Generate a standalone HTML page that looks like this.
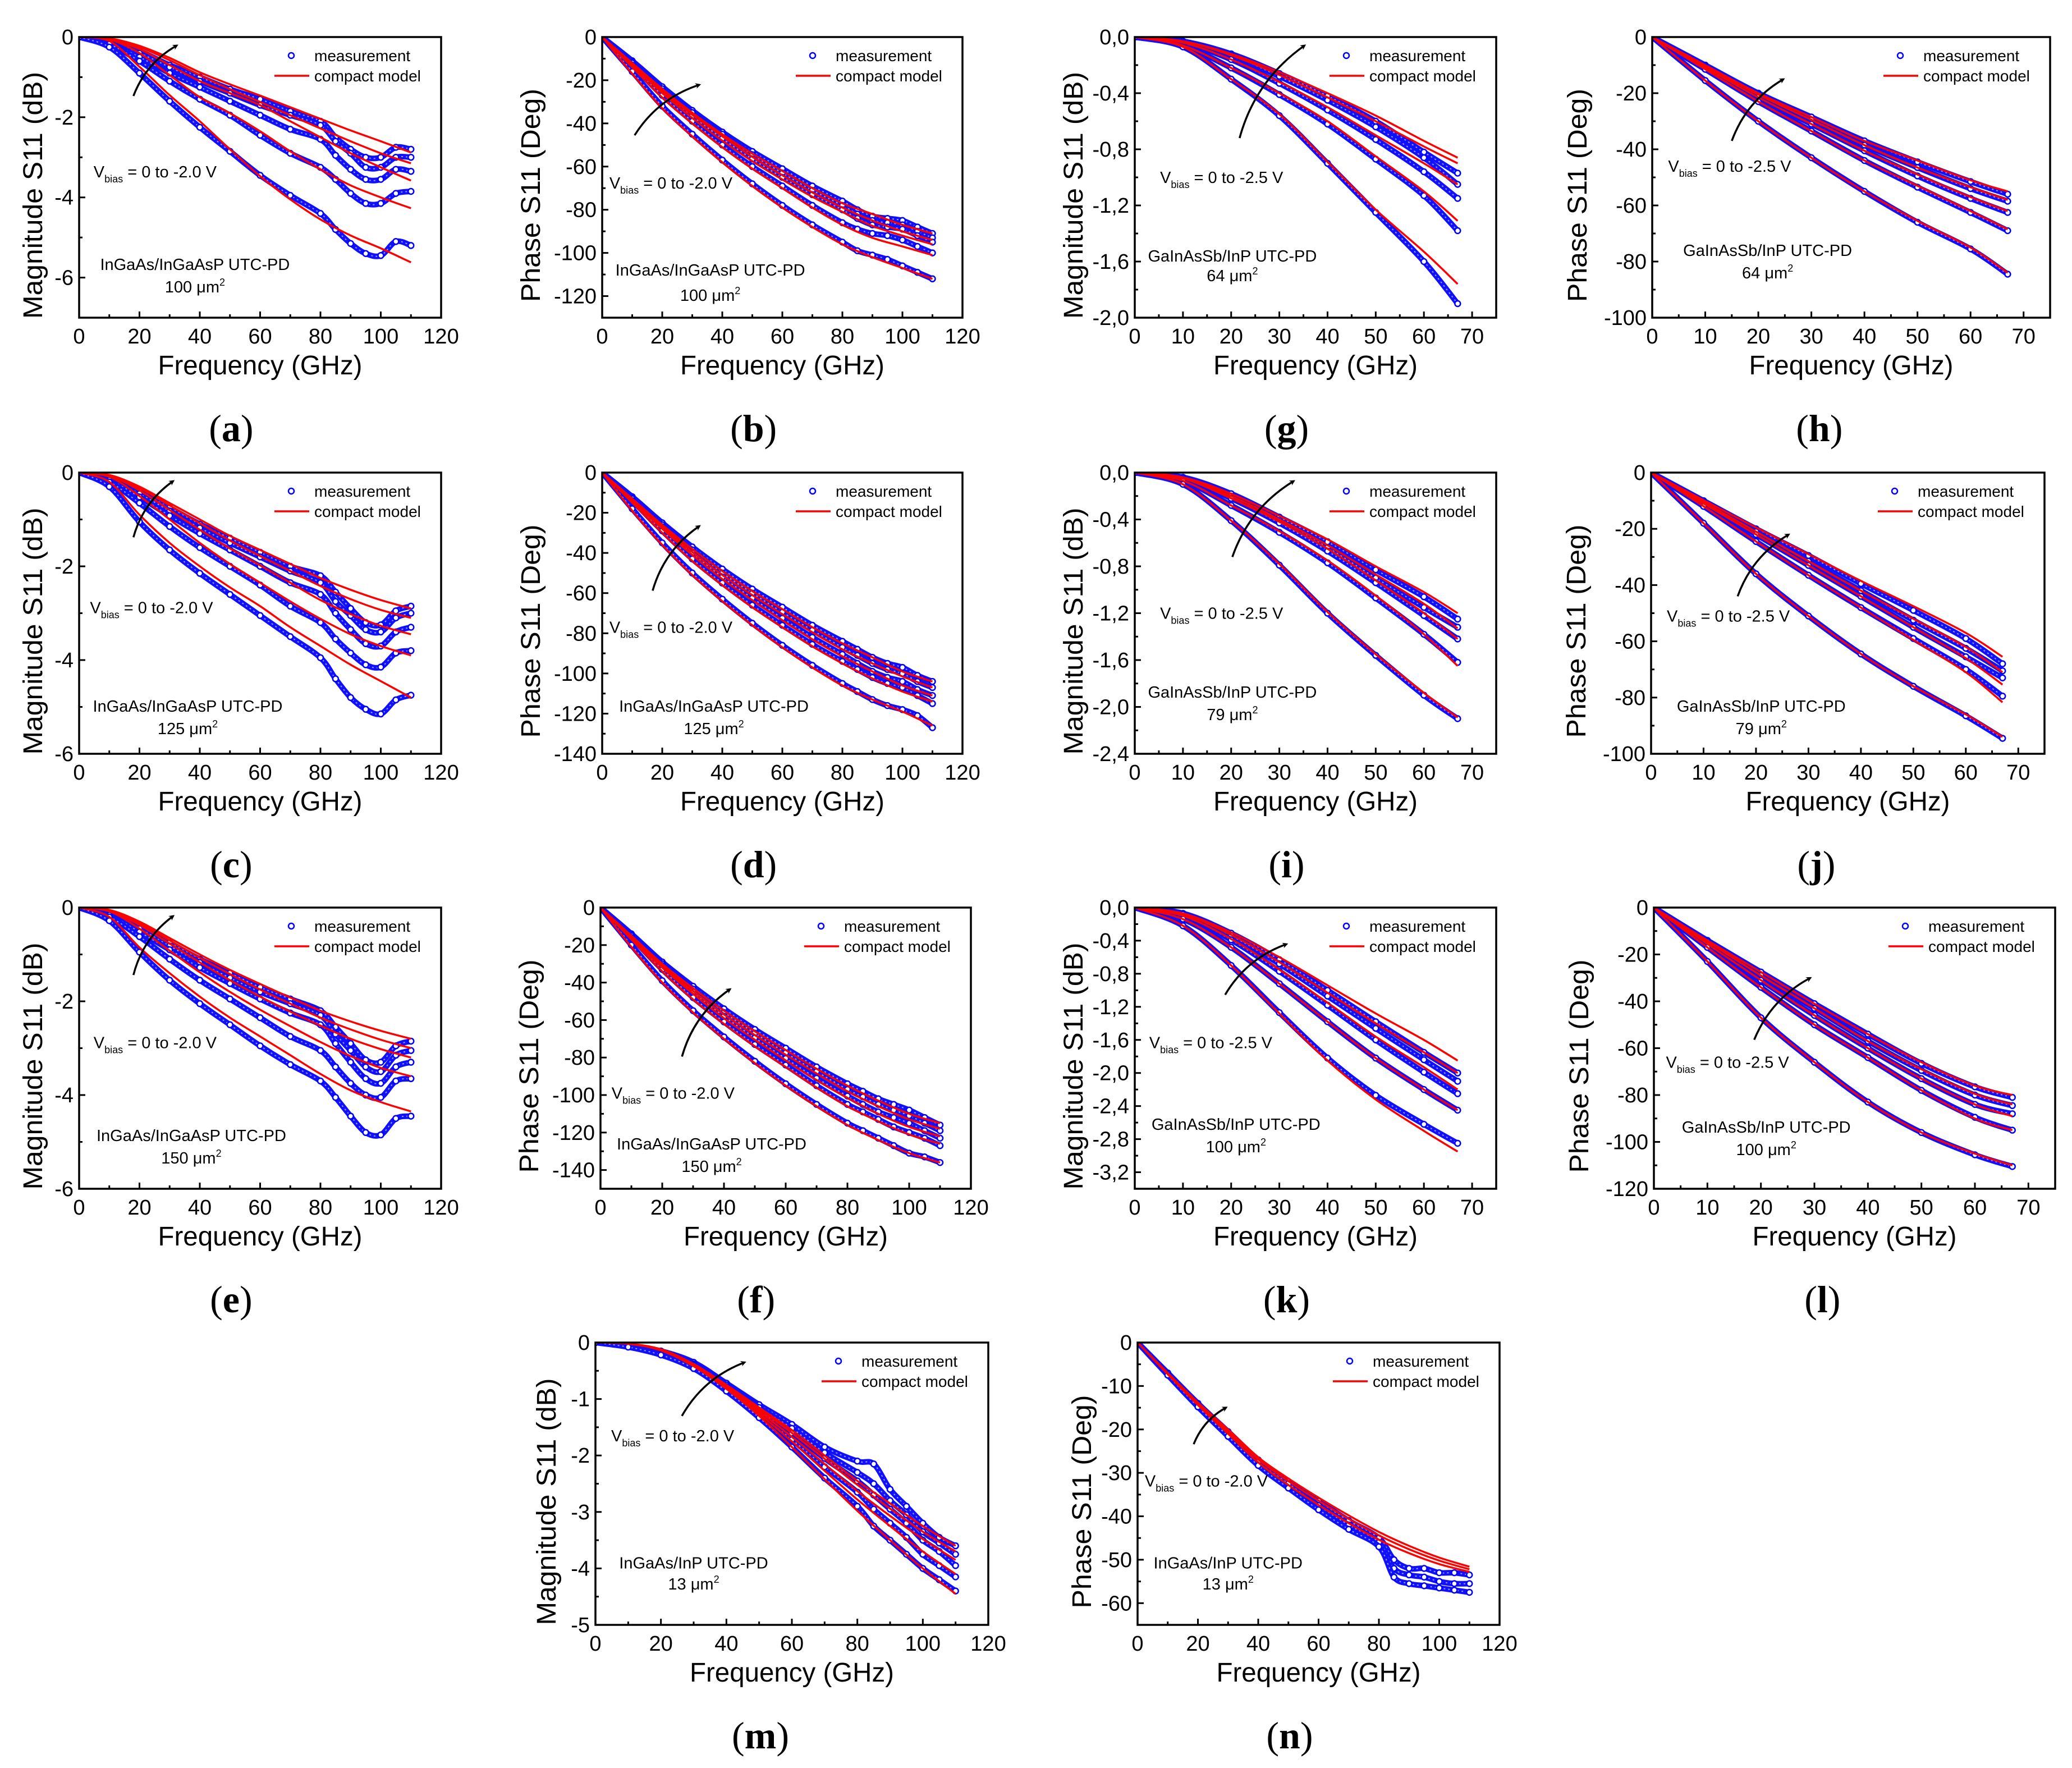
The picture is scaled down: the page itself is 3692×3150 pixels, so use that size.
<!DOCTYPE html>
<html><head><meta charset="utf-8"><style>
html,body{margin:0;padding:0;background:#fff}
svg{display:block}
text{font-family:"Liberation Sans",sans-serif}
</style></head><body>
<svg id="fig" xmlns="http://www.w3.org/2000/svg" width="3692" height="3150" viewBox="0 0 3692 3150">
<defs><marker id="ah" markerWidth="10" markerHeight="10" refX="7" refY="5" orient="auto" markerUnits="userSpaceOnUse"><path d="M0,0 L10,5 L0,10 L3,5 Z" fill="#000"/></marker></defs>
<rect width="3692" height="3150" fill="#fff"/>
</svg>
<script>
// ---------- shared frequency grids ----------
const F110 = [0,10,20,30,40,50,60,70,80,90,100,110];
const FM110 = [0,10,20,30,40,50,60,70,80,85,90,95,100,105,110];
const F67 = [0,10,20,30,40,50,60,67];

// ---------- (a) InGaAs/InGaAsP 100um2 magnitude ----------
const a_model = [
[0,-0.03,-0.22,-0.52,-0.88,-1.18,-1.46,-1.75,-2.04,-2.33,-2.6,-2.88],
[0,-0.04,-0.25,-0.58,-0.95,-1.3,-1.62,-1.95,-2.28,-2.6,-2.9,-3.15],
[0,-0.05,-0.3,-0.7,-1.1,-1.4,-1.7,-2.1,-2.5,-2.9,-3.25,-3.58],
[0,-0.06,-0.4,-0.95,-1.5,-1.9,-2.35,-2.85,-3.3,-3.7,-4.0,-4.27],
[0,-0.1,-0.74,-1.45,-2.1,-2.8,-3.47,-4.05,-4.55,-4.95,-5.27,-5.62]];
const a_meas = [
[0,-0.1,-0.35,-0.7,-1.0,-1.3,-1.55,-1.85,-2.1,-2.5,-2.8,-3.0,-3.0,-2.75,-2.8],
[0,-0.12,-0.4,-0.75,-1.1,-1.4,-1.7,-1.95,-2.2,-2.6,-2.9,-3.25,-3.25,-3.0,-3.0],
[0,-0.15,-0.5,-0.9,-1.25,-1.6,-1.95,-2.3,-2.55,-2.95,-3.3,-3.55,-3.55,-3.3,-3.35],
[0,-0.18,-0.6,-1.1,-1.55,-1.95,-2.45,-2.9,-3.25,-3.55,-3.9,-4.15,-4.15,-3.9,-3.85],
[0,-0.25,-0.9,-1.6,-2.25,-2.85,-3.45,-3.95,-4.4,-4.8,-5.15,-5.4,-5.45,-5.1,-5.2]];
// ---------- (b) phase ----------
const b_model = [
[0,-12,-24,-35,-45,-54,-62,-70,-77,-82,-87,-91],
[0,-12.5,-25,-36,-46,-55.5,-64,-72,-79,-85,-90,-94],
[0,-13,-26,-37.5,-48,-57.5,-66,-74,-81,-87.5,-92,-96],
[0,-14,-28,-40,-51,-61,-70,-79,-87,-93,-97,-101],
[0,-17,-33,-46,-58,-69,-79,-88,-96,-102,-107,-112]];
const b_meas = [
[0,-11,-23,-34,-44,-53,-61,-69,-76,-80,-83,-84,-85,-88,-91],
[0,-11.5,-24,-35,-45,-54.5,-63,-71,-78,-82,-85,-86,-87,-90,-93],
[0,-12,-25,-36.5,-47,-56.5,-65,-73,-80,-84,-87,-88,-89,-92,-95],
[0,-13,-27,-39,-50,-60,-69,-78,-86,-89,-91,-92,-94,-97,-100],
[0,-16,-32,-45,-57,-68,-78,-87,-95,-99,-101,-103,-106,-109,-112]];
// ---------- (c) ----------
const c_model = [
[0,-0.05,-0.3,-0.65,-1.0,-1.35,-1.65,-1.95,-2.25,-2.5,-2.72,-2.9],
[0,-0.06,-0.33,-0.7,-1.08,-1.45,-1.78,-2.1,-2.42,-2.7,-2.93,-3.1],
[0,-0.07,-0.38,-0.8,-1.22,-1.62,-1.98,-2.35,-2.72,-3.02,-3.27,-3.45],
[0,-0.09,-0.5,-1.0,-1.5,-1.95,-2.35,-2.75,-3.12,-3.45,-3.7,-3.9],
[0,-0.2,-0.9,-1.5,-2.0,-2.45,-2.85,-3.3,-3.7,-4.1,-4.45,-4.8]];
const c_meas = [
[0,-0.12,-0.4,-0.75,-1.1,-1.4,-1.7,-2.0,-2.2,-2.55,-2.9,-3.2,-3.25,-2.95,-2.85],
[0,-0.14,-0.45,-0.82,-1.18,-1.5,-1.8,-2.1,-2.35,-2.75,-3.05,-3.35,-3.4,-3.1,-3.0],
[0,-0.16,-0.52,-0.92,-1.3,-1.65,-2.0,-2.35,-2.6,-3.0,-3.35,-3.65,-3.7,-3.4,-3.3],
[0,-0.2,-0.65,-1.15,-1.6,-2.0,-2.4,-2.85,-3.2,-3.55,-3.85,-4.1,-4.15,-3.85,-3.8],
[0,-0.3,-1.05,-1.65,-2.15,-2.6,-3.05,-3.5,-3.95,-4.4,-4.8,-5.05,-5.15,-4.85,-4.75]];
// ---------- (d) ----------
const d_model = [
[0,-13,-26,-38,-49,-59,-68,-77,-85,-92,-99,-104],
[0,-13.5,-27,-39.5,-51,-61,-70.5,-79.5,-88,-95,-101.5,-107],
[0,-14,-28,-41,-53,-63.5,-73.5,-83,-91.5,-99,-106,-111],
[0,-15,-30,-44,-56,-67,-77,-86.5,-95,-102.5,-109,-114],
[0,-19,-36,-51,-64,-76,-87,-97,-106,-113,-119,-126]];
const d_meas = [
[0,-12,-25,-37,-48,-58,-67,-76,-84,-88,-92,-95,-97,-101,-104],
[0,-12.5,-26,-38.5,-50,-60,-69.5,-78.5,-87,-91,-95,-98,-100,-104,-107],
[0,-13,-27,-40,-52,-62.5,-72.5,-82,-90.5,-95,-99,-102,-104,-108,-111],
[0,-14,-29,-43,-55,-66,-76,-85.5,-94,-98,-102,-105,-107,-111,-115],
[0,-18,-35,-50,-63,-75,-86,-96,-105,-109,-113,-116,-118,-121,-127]];
// ---------- (e) ----------
const e_model = [
[0,-0.05,-0.3,-0.65,-1.0,-1.33,-1.63,-1.92,-2.2,-2.43,-2.63,-2.8],
[0,-0.06,-0.33,-0.7,-1.07,-1.42,-1.75,-2.05,-2.35,-2.6,-2.82,-3.0],
[0,-0.07,-0.37,-0.77,-1.17,-1.55,-1.9,-2.22,-2.52,-2.8,-3.02,-3.2],
[0,-0.08,-0.45,-0.92,-1.38,-1.8,-2.18,-2.53,-2.87,-3.17,-3.42,-3.6],
[0,-0.2,-0.85,-1.4,-1.9,-2.35,-2.75,-3.15,-3.55,-3.9,-4.15,-4.35]];
const e_meas = [
[0,-0.12,-0.4,-0.75,-1.1,-1.4,-1.7,-1.95,-2.2,-2.55,-2.9,-3.25,-3.3,-2.95,-2.85],
[0,-0.14,-0.45,-0.82,-1.17,-1.5,-1.8,-2.05,-2.3,-2.7,-3.05,-3.4,-3.5,-3.15,-3.05],
[0,-0.16,-0.52,-0.9,-1.28,-1.62,-1.95,-2.25,-2.5,-2.9,-3.3,-3.65,-3.75,-3.4,-3.3],
[0,-0.2,-0.62,-1.1,-1.55,-1.95,-2.35,-2.75,-3.05,-3.4,-3.75,-4.0,-4.05,-3.7,-3.65],
[0,-0.28,-0.95,-1.55,-2.05,-2.5,-2.95,-3.35,-3.7,-4.05,-4.45,-4.8,-4.85,-4.5,-4.45]];
// ---------- (f) ----------
const f_model = [
[0,-15,-30,-43,-55,-66,-76,-86,-95,-103,-110,-115],
[0,-15.5,-31,-44.5,-57,-68,-78.5,-88.5,-98,-106,-113,-118],
[0,-16,-32,-46,-59,-70.5,-81.5,-92,-101.5,-110,-117,-122],
[0,-17,-34,-49,-62,-74,-85,-96,-106,-114,-121,-126],
[0,-21,-40,-56,-70,-83,-95,-106,-116,-124,-131,-136]];
const f_meas = [
[0,-14,-29,-42,-54,-65,-75,-85,-94,-98,-102,-105,-108,-112,-116],
[0,-14.5,-30,-43.5,-56,-67,-77.5,-87.5,-97,-101,-105,-108,-111,-115,-119],
[0,-15,-31,-45,-58,-69.5,-80.5,-91,-100.5,-105,-109,-112,-115,-119,-123],
[0,-16,-33,-48,-61,-73,-84,-95,-105,-109,-113,-117,-120,-123,-127],
[0,-20,-39,-55,-69,-82,-94,-105,-115,-119,-123,-127,-131,-133,-136]];
// ---------- (g) GaInAsSb/InP 64um2 magnitude ----------
const g_model = [
[0,-0.03,-0.12,-0.25,-0.4,-0.56,-0.74,-0.86],
[0,-0.03,-0.13,-0.27,-0.43,-0.6,-0.78,-0.9],
[0,-0.04,-0.16,-0.32,-0.5,-0.7,-0.9,-1.05],
[0,-0.06,-0.22,-0.4,-0.6,-0.85,-1.1,-1.31],
[0,-0.07,-0.3,-0.55,-0.89,-1.23,-1.53,-1.76]];
const g_meas = [
[0,-0.03,-0.12,-0.26,-0.42,-0.6,-0.82,-0.97],
[0,-0.03,-0.13,-0.28,-0.45,-0.64,-0.86,-1.05],
[0,-0.04,-0.16,-0.33,-0.52,-0.73,-0.96,-1.15],
[0,-0.06,-0.22,-0.41,-0.62,-0.87,-1.13,-1.38],
[0,-0.07,-0.3,-0.56,-0.9,-1.25,-1.6,-1.9]];
// ---------- (h) ----------
const h_model = [
[0,-10,-20,-28.5,-37,-44,-51,-55],
[0,-10.3,-20.5,-29.5,-38.5,-46.5,-53.5,-58],
[0,-10.8,-21.5,-31,-40.5,-49,-57,-62],
[0,-11.5,-23,-33.5,-44,-53,-62,-68.5],
[0,-15.5,-30,-43,-55,-65.5,-75,-84]];
const h_meas = [
[0,-10,-20,-28.5,-37,-44.5,-51.5,-56],
[0,-10.3,-20.5,-29.5,-38.5,-46.5,-54,-58.5],
[0,-10.8,-21.5,-31,-40.5,-49.5,-57.5,-62.5],
[0,-11.5,-23,-33.5,-44,-53.5,-62.5,-69],
[0,-15.5,-30,-43,-55,-66,-75.5,-84.5]];
// ---------- (i) ----------
const i_model = [
[0,-0.04,-0.18,-0.37,-0.57,-0.8,-1.02,-1.2],
[0,-0.05,-0.2,-0.4,-0.62,-0.87,-1.12,-1.33],
[0,-0.05,-0.22,-0.42,-0.65,-0.92,-1.2,-1.42],
[0,-0.07,-0.28,-0.5,-0.75,-1.05,-1.38,-1.65],
[0,-0.1,-0.41,-0.78,-1.19,-1.55,-1.88,-2.09]];
const i_meas = [
[0,-0.04,-0.18,-0.38,-0.59,-0.83,-1.06,-1.25],
[0,-0.05,-0.2,-0.41,-0.64,-0.9,-1.15,-1.32],
[0,-0.05,-0.22,-0.43,-0.67,-0.94,-1.22,-1.42],
[0,-0.07,-0.28,-0.51,-0.77,-1.07,-1.38,-1.62],
[0,-0.1,-0.41,-0.79,-1.2,-1.56,-1.9,-2.1]];
// ---------- (j) ----------
const j_model = [
[0,-9.8,-19.5,-29,-38.5,-47.5,-57,-65.5],
[0,-10.5,-21,-31.5,-42,-52,-62,-71],
[0,-11,-22,-33,-44,-55,-66,-75.4],
[0,-12,-24.5,-36.5,-48,-59.5,-71,-81.7],
[0,-18,-36,-51,-64.5,-76,-86,-94]];
const j_meas = [
[0,-10,-20,-29.5,-39.5,-49,-59,-68],
[0,-10.5,-21,-31.5,-42,-52.5,-62.5,-70.5],
[0,-11,-22,-33,-44,-55,-65.5,-73],
[0,-12,-24.5,-36.5,-48,-59,-70,-79.5],
[0,-18,-36,-51,-64.5,-76,-86.5,-94.5]];
// ---------- (k) ----------
const k_model = [
[0,-0.07,-0.3,-0.6,-0.94,-1.28,-1.6,-1.85],
[0,-0.08,-0.33,-0.66,-1.03,-1.4,-1.75,-2.0],
[0,-0.1,-0.38,-0.75,-1.15,-1.56,-1.93,-2.2],
[0,-0.14,-0.48,-0.92,-1.38,-1.82,-2.2,-2.45],
[0,-0.22,-0.7,-1.28,-1.85,-2.32,-2.7,-2.95]];
const k_meas = [
[0,-0.07,-0.31,-0.63,-1.0,-1.38,-1.75,-2.0],
[0,-0.08,-0.34,-0.68,-1.07,-1.46,-1.84,-2.1],
[0,-0.1,-0.39,-0.77,-1.18,-1.6,-1.99,-2.25],
[0,-0.14,-0.48,-0.92,-1.38,-1.82,-2.2,-2.45],
[0,-0.22,-0.7,-1.27,-1.82,-2.27,-2.62,-2.85]];
// ---------- (l) ----------
const l_model = [
[0,-14,-27.5,-41,-54,-66,-76,-80],
[0,-14.5,-29,-43,-57,-69,-79.5,-84],
[0,-15.5,-31,-46,-60,-73,-84,-89],
[0,-17,-34,-50,-64,-78,-90,-95],
[0,-23,-47,-66,-83,-96,-105,-110]];
const l_meas = [
[0,-14,-27.5,-41,-54,-66.5,-76.5,-81],
[0,-14.5,-29,-43,-57,-69.5,-80,-84.5],
[0,-15.5,-31,-46,-60,-73,-84,-88],
[0,-17,-34,-50,-64,-78,-89.5,-95],
[0,-23,-47,-66,-83,-96,-105.5,-110.5]];
// ---------- (m) InGaAs/InP 13um2 magnitude ----------
const m_model = [
[0,-0.02,-0.12,-0.38,-0.75,-1.15,-1.55,-2.0,-2.45,-2.85,-3.25,-3.6],
[0,-0.02,-0.12,-0.39,-0.77,-1.18,-1.6,-2.06,-2.52,-2.94,-3.35,-3.7],
[0,-0.02,-0.13,-0.4,-0.79,-1.22,-1.67,-2.15,-2.63,-3.07,-3.48,-3.85],
[0,-0.02,-0.13,-0.41,-0.8,-1.26,-1.75,-2.27,-2.78,-3.25,-3.7,-4.1],
[0,-0.02,-0.14,-0.42,-0.82,-1.3,-1.85,-2.42,-2.98,-3.5,-4.0,-4.45]];
const m_meas = [
[0,-0.05,-0.15,-0.35,-0.72,-1.1,-1.45,-1.85,-2.1,-2.15,-2.6,-2.9,-3.2,-3.45,-3.6],
[0,-0.06,-0.17,-0.38,-0.75,-1.15,-1.52,-1.95,-2.3,-2.5,-2.8,-3.05,-3.35,-3.55,-3.75],
[0,-0.06,-0.18,-0.4,-0.78,-1.2,-1.6,-2.05,-2.45,-2.7,-2.95,-3.2,-3.5,-3.7,-3.95],
[0,-0.07,-0.2,-0.43,-0.82,-1.27,-1.72,-2.2,-2.65,-2.95,-3.2,-3.45,-3.75,-3.95,-4.15],
[0,-0.08,-0.22,-0.46,-0.86,-1.33,-1.85,-2.4,-2.9,-3.25,-3.5,-3.75,-4.0,-4.2,-4.4]];
// ---------- (n) phase ----------
const n_model = [
[0,-7,-13.8,-20,-26.4,-31.3,-35.7,-39.8,-43.6,-46.8,-49.5,-51.6],
[0,-7.1,-14,-20.4,-26.9,-31.9,-36.4,-40.6,-44.4,-47.6,-50.2,-52.2],
[0,-7.3,-14.4,-21,-27.6,-32.8,-37.4,-41.6,-45.4,-48.5,-51,-52.8]];
const n_meas = [
[0,-7,-14,-20.5,-27,-32,-36.5,-41,-45,-50,-52,-52,-53,-53,-53.5],
[0,-7.2,-14.3,-21,-27.5,-32.5,-37.5,-42,-46,-52,-53.5,-54,-55,-55.5,-55.5],
[0,-7.5,-14.8,-21.6,-28.3,-33.5,-38.5,-43,-47,-54,-55.5,-56,-56.5,-57,-57.5]];

// ---------- panel layout (positions, not data) ----------
const R1=[66,566],R2=[842,1343],R3=[1617,2118],R4=[2392,2895];
const mag="Magnitude S11 (dB)", ph="Phase S11 (Deg)";
const IGP="InGaAs/InGaAsP UTC-PD", GSB="GaInAsSb/InP UTC-PD";
const P=[
 {id:'a',l:141,r:786,t:R1[0],b:R1[1],xmax:120,xmaj:20,ymin:-7,ymaj:2,ymnr:1,fmt:0,yt:mag,ytd:83,mf:F110,ms:FM110,mo:a_model,me:a_meas,v:'-2.0',vx:.04,vy:.50,dev:IGP,area:'100',dx:.32,dy1:.83,dy2:.91,ar:[.15,.21,.27,.03]},
 {id:'b',l:1073,r:1715,t:R1[0],b:R1[1],xmax:120,xmaj:20,ymin:-130,ymaj:20,ymnr:10,fmt:0,yt:ph,ytd:128,mf:F110,ms:FM110,mo:b_model,me:b_meas,v:'-2.0',vx:.02,vy:.54,dev:IGP,area:'100',dx:.30,dy1:.85,dy2:.94,ar:[.09,.35,.27,.17]},
 {id:'g',l:2022,r:2666,t:R1[0],b:R1[1],xmax:75,xmaj:10,ymin:-2.0,ymaj:0.4,ymnr:0.2,fmt:1,yt:mag,ytd:110,mf:F67,ms:F67,mo:g_model,me:g_meas,v:'-2.5',vx:.07,vy:.52,dev:GSB,area:'64',dx:.27,dy1:.80,dy2:.87,ar:[.29,.36,.47,.03]},
 {id:'h',l:2944,r:3653,t:R1[0],b:R1[1],xmax:75,xmaj:10,ymin:-100,ymaj:20,ymnr:10,fmt:0,yt:ph,ytd:134,mf:F67,ms:F67,mo:h_model,me:h_meas,v:'-2.5',vx:.04,vy:.48,dev:GSB,area:'64',dx:.29,dy1:.78,dy2:.86,ar:[.20,.37,.33,.15]},
 {id:'c',l:141,r:786,t:R2[0],b:R2[1],xmax:120,xmaj:20,ymin:-6,ymaj:2,ymnr:1,fmt:0,yt:mag,ytd:83,mf:F110,ms:FM110,mo:c_model,me:c_meas,v:'-2.0',vx:.03,vy:.50,dev:IGP,area:'125',dx:.30,dy1:.85,dy2:.93,ar:[.15,.23,.26,.03]},
 {id:'d',l:1073,r:1715,t:R2[0],b:R2[1],xmax:120,xmaj:20,ymin:-140,ymaj:20,ymnr:10,fmt:0,yt:ph,ytd:128,mf:F110,ms:FM110,mo:d_model,me:d_meas,v:'-2.0',vx:.02,vy:.57,dev:IGP,area:'125',dx:.31,dy1:.85,dy2:.93,ar:[.14,.42,.27,.19]},
 {id:'i',l:2022,r:2666,t:R2[0],b:R2[1],xmax:75,xmaj:10,ymin:-2.4,ymaj:0.4,ymnr:0.2,fmt:1,yt:mag,ytd:110,mf:F67,ms:F67,mo:i_model,me:i_meas,v:'-2.5',vx:.07,vy:.52,dev:GSB,area:'79',dx:.27,dy1:.80,dy2:.88,ar:[.27,.30,.44,.03]},
 {id:'j',l:2942,r:3643,t:R2[0],b:R2[1],xmax:75,xmaj:10,ymin:-100,ymaj:20,ymnr:10,fmt:0,yt:ph,ytd:134,mf:F67,ms:F67,mo:j_model,me:j_meas,v:'-2.5',vx:.04,vy:.53,dev:GSB,area:'79',dx:.28,dy1:.85,dy2:.93,ar:[.22,.44,.35,.22]},
 {id:'e',l:141,r:786,t:R3[0],b:R3[1],xmax:120,xmaj:20,ymin:-6,ymaj:2,ymnr:1,fmt:0,yt:mag,ytd:83,mf:F110,ms:FM110,mo:e_model,me:e_meas,v:'-2.0',vx:.04,vy:.50,dev:IGP,area:'150',dx:.31,dy1:.83,dy2:.91,ar:[.15,.24,.26,.03]},
 {id:'f',l:1070,r:1730,t:R3[0],b:R3[1],xmax:120,xmaj:20,ymin:-150,ymaj:20,ymnr:10,fmt:0,yt:ph,ytd:128,mf:F110,ms:FM110,mo:f_model,me:f_meas,v:'-2.0',vx:.03,vy:.68,dev:IGP,area:'150',dx:.30,dy1:.86,dy2:.94,ar:[.22,.53,.35,.29]},
 {id:'k',l:2022,r:2666,t:R3[0],b:R3[1],xmax:75,xmaj:10,ymin:-3.4,ymaj:0.4,ymnr:0.2,fmt:1,yt:mag,ytd:110,mf:F67,ms:F67,mo:k_model,me:k_meas,v:'-2.5',vx:.04,vy:.50,dev:GSB,area:'100',dx:.28,dy1:.79,dy2:.87,ar:[.25,.31,.42,.13]},
 {id:'l',l:2947,r:3662,t:R3[0],b:R3[1],xmax:75,xmaj:10,ymin:-120,ymaj:20,ymnr:10,fmt:0,yt:ph,ytd:134,mf:F67,ms:F67,mo:l_model,me:l_meas,v:'-2.5',vx:.03,vy:.57,dev:GSB,area:'100',dx:.28,dy1:.80,dy2:.88,ar:[.25,.47,.39,.25]},
 {id:'m',l:1061,r:1761,t:R4[0],b:R4[1],xmax:120,xmaj:20,ymin:-5,ymaj:1,ymnr:0.5,fmt:0,yt:mag,ytd:88,mf:F110,ms:FM110,mo:m_model,me:m_meas,v:'-2.0',vx:.04,vy:.35,dev:'InGaAs/InP UTC-PD',area:'13',dx:.25,dy1:.80,dy2:.875,ar:[.22,.26,.38,.07]},
 {id:'n',l:2027,r:2672,t:R4[0],b:R4[1],xmax:120,xmaj:20,ymin:-65,ymaj:10,ymnr:5,fmt:0,yt:ph,ytd:100,mf:F110,ms:FM110,mo:n_model,me:n_meas,v:'-2.0',vx:.02,vy:.51,dev:'InGaAs/InP UTC-PD',area:'13',dx:.25,dy1:.80,dy2:.875,ar:[.155,.36,.245,.23]}
];

const NS="http://www.w3.org/2000/svg";
const svg=document.getElementById('fig');
function mk(tag,attrs,parent){const e=document.createElementNS(NS,tag);for(const k in attrs)e.setAttribute(k,attrs[k]);(parent||svg).appendChild(e);return e;}
function smooth(pts){let d=`M${pts[0][0].toFixed(1)},${pts[0][1].toFixed(1)}`;for(let i=0;i<pts.length-1;i++){const p0=pts[i-1]||pts[i],p1=pts[i],p2=pts[i+1],p3=pts[i+2]||pts[i+1];const c1=[p1[0]+(p2[0]-p0[0])/6,p1[1]+(p2[1]-p0[1])/6],c2=[p2[0]-(p3[0]-p1[0])/6,p2[1]-(p3[1]-p1[1])/6];d+=` C${c1[0].toFixed(1)},${c1[1].toFixed(1)} ${c2[0].toFixed(1)},${c2[1].toFixed(1)} ${p2[0].toFixed(1)},${p2[1].toFixed(1)}`;}return d;}
function fmtv(v,f){if(f===1){let s=Math.abs(v).toFixed(1).replace('.',',');return (v<-1e-9?'-':'')+s;}return String(Math.round(v));}

P.forEach(p=>{
 const g=mk('g',{});
 
 
 const W=p.r-p.l,H=p.b-p.t;
 const X=v=>p.l+v/p.xmax*W, Y=v=>p.t+v/p.ymin*H;
 const clip=mk('clipPath',{id:'cp'+p.id},g);mk('rect',{x:p.l,y:p.t,width:W,height:H},clip);
 const sg=mk('g',{'clip-path':`url(#cp${p.id})`},g);
 p.me.forEach((s,k)=>{
  const pts=p.ms.map((f,i)=>[X(f),Y(s[i])]);
  const band=mk('path',{d:smooth(pts),fill:'none',stroke:'#1010ff','stroke-width':10,'stroke-linecap':'round'},sg);
  
  
  mk('path',{d:smooth(pts),fill:'none',stroke:'#9a9aff','stroke-width':2,'stroke-dasharray':'3 5'},sg);
  pts.forEach(q=>{const c=mk('circle',{cx:q[0],cy:q[1],r:5,fill:'#fff',stroke:'#0000ff','stroke-width':2.5},sg);
   
   });
 });
 p.mo.forEach((s,k)=>{
  const pts=p.mf.map((f,i)=>[X(f),Y(s[i])]);
  const ln=mk('path',{d:smooth(pts),fill:'none',stroke:'#ff0000','stroke-width':3.5},sg);
  
  
 });
 const fr=mk('rect',{x:p.l,y:p.t,width:W,height:H,fill:'none',stroke:'#000','stroke-width':3.5},g);
 
 
 for(let v=0;v<=p.xmax+1e-9;v+=p.xmaj/2){
  const major=Math.abs(v/p.xmaj-Math.round(v/p.xmaj))<1e-6;
  mk('line',{x1:X(v),x2:X(v),y1:p.b,y2:p.b-(major?11:6),stroke:'#000','stroke-width':3},g);
  if(major){const t=mk('text',{x:X(v),y:p.b+46,'font-size':38,'text-anchor':'middle'},g);t.textContent=String(v);
   
   }
 }
 for(let v=0;v>=p.ymin-1e-9;v-=p.ymnr){
  const major=Math.abs(v/p.ymaj-Math.round(v/p.ymaj))<1e-6;
  mk('line',{x1:p.l,x2:p.l+(major?11:6),y1:Y(v),y2:Y(v),stroke:'#000','stroke-width':3},g);
  if(major){const t=mk('text',{x:p.l-10,y:Y(v)+13,'font-size':38,'text-anchor':'end'},g);t.textContent=fmtv(v,p.fmt);
   
   }
 }
 const xt=mk('text',{x:p.l+W/2,y:p.b+101,'font-size':48,'text-anchor':'middle',textLength:364,lengthAdjust:'spacingAndGlyphs'},g);
 xt.textContent='Frequency (GHz)';
 
 
 const yc=p.t+H/2+32, yx=p.l-p.ytd;
 const yt=mk('text',{x:yx,y:yc,'font-size':48,'text-anchor':'middle',transform:`rotate(-90 ${yx} ${yc})`,dy:17,textLength:(p.yt===mag?440:380),lengthAdjust:'spacingAndGlyphs'},g);
 yt.textContent=p.yt;
 
 
 const lg=mk('g',{},g);
 
 
 mk('circle',{cx:p.r-267,cy:p.t+33,r:5,fill:'#fff',stroke:'#0000ff','stroke-width':2.5},lg);
 const t1=mk('text',{x:p.r-226,y:p.t+43,'font-size':28},lg);t1.textContent='measurement';
 mk('line',{x1:p.r-297,x2:p.r-235,y1:p.t+69,y2:p.t+69,stroke:'#ff0000','stroke-width':3.5},lg);
 const t2=mk('text',{x:p.r-226,y:p.t+79,'font-size':28},lg);t2.textContent='compact model';
 const vb=mk('text',{x:p.l+p.vx*W,y:p.t+p.vy*H,'font-size':29},g);
 
 
 vb.innerHTML=`V<tspan font-size="18" dy="9">bias</tspan><tspan dy="-9"> = 0 to ${p.v} V</tspan>`;
 const dv=mk('text',{x:p.l+p.dx*W,y:p.t+p.dy1*H,'font-size':29,'text-anchor':'middle'},g);
 dv.textContent=p.dev;
 
 
 const ar=mk('text',{x:p.l+p.dx*W,y:p.t+p.dy2*H,'font-size':29,'text-anchor':'middle'},g);
 ar.innerHTML=`${p.area} μm<tspan font-size="18" dy="-12">2</tspan>`;
 
 
 const x0=p.l+p.ar[0]*W,y0=p.t+p.ar[1]*H,x1=p.l+p.ar[2]*W,y1=p.t+p.ar[3]*H;
 const mx=(x0+x1)/2,my=(y0+y1)/2,dxv=x1-x0,dyv=y1-y0;
 const cx=mx+dyv*0.18,cy=my-dxv*0.18;
 const aw=mk('path',{d:`M${x0},${y0} Q${cx},${cy} ${x1},${y1}`,fill:'none',stroke:'#000','stroke-width':3.5,'marker-end':'url(#ah)'},g);
 
 
 const pl=mk('text',{x:p.l+0.42*W,y:p.b+220,'font-size':68,'text-anchor':'middle',style:'font-family:"Liberation Serif",serif'},g);
 pl.innerHTML=`(<tspan font-weight="bold">${p.id}</tspan>)`;
 
 
});
</script>
</body></html>
